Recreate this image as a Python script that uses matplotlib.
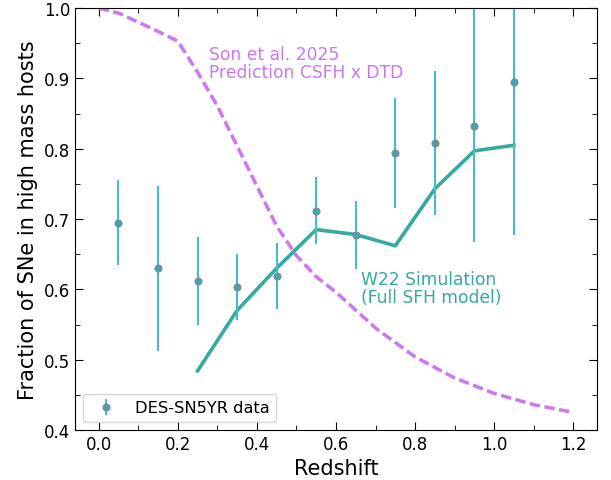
import matplotlib
matplotlib.use('Agg')
import matplotlib.pyplot as plt
import numpy as np

# DES-SN5YR binned data
z_data = [0.05, 0.15, 0.25, 0.35, 0.45, 0.55, 0.65, 0.75, 0.85, 0.95, 1.05]
frac_data = [0.695, 0.630, 0.612, 0.603, 0.619, 0.712, 0.677, 0.794, 0.808, 0.833, 0.895]
frac_err = [0.060, 0.117, 0.062, 0.047, 0.047, 0.048, 0.048, 0.078, 0.102, 0.166, 0.217]

# W22 simulation
z_sim = [0.25, 0.35, 0.45, 0.55, 0.65, 0.75, 0.85, 0.95, 1.05]
frac_sim = [0.484, 0.570, 0.630, 0.685, 0.678, 0.662, 0.743, 0.797, 0.805]

# Son et al. 2025 prediction
z_son = [0.0, 0.05, 0.10, 0.15, 0.20, 0.25, 0.30, 0.35, 0.40, 0.45, 0.50,
         0.55, 0.60, 0.70, 0.80, 0.90, 1.00, 1.10, 1.20]
frac_son = [1.000, 0.993, 0.980, 0.967, 0.953, 0.909, 0.861, 0.804, 0.747, 0.690, 0.648,
            0.618, 0.596, 0.545, 0.504, 0.474, 0.452, 0.436, 0.425]

purple = '#cc77f2'
teal = '#35ab9e'
blue = '#4cb8cc'

fig = plt.figure(figsize=(6.11, 4.81), dpi=100)
ax = fig.add_axes([0.1227, 0.104, 0.8543, 0.877])

ax.plot(z_son, frac_son, ls='--', dashes=(3.0, 1.3), color=purple, lw=2.5)
ax.plot(z_sim, frac_sim, ls='-', color=teal, lw=2.6)
ax.errorbar(z_data, frac_data, yerr=frac_err, fmt='o', color=blue, ms=5,
            mfc='#3fa3ba', mec='#888888', mew=0.8, elinewidth=1.5, capsize=0,
            label='DES-SN5YR data')

ax.text(0.28, 0.948, 'Son et al. 2025\nPrediction CSFH x DTD', color=purple,
        fontsize=12.3, va='top', ha='left', linespacing=1.0)
ax.text(0.663, 0.628, 'W22 Simulation\n(Full SFH model)', color=teal,
        fontsize=12.3, va='top', ha='left', linespacing=1.0)

ax.set_ylim(0.4, 1.0)
ax.set_xlabel('Redshift', fontsize=15)
ax.set_ylabel('Fraction of SNe in high mass hosts', fontsize=15)
ax.set_xticks(np.arange(0, 1.21, 0.2))
ax.set_xticks(np.arange(0.1, 1.21, 0.2), minor=True)
ax.set_yticks(np.arange(0.4, 1.01, 0.1))
ax.set_yticks(np.arange(0.45, 1.0, 0.1), minor=True)
ax.tick_params(which='both', direction='in', top=True, right=True, labelsize=12)
ax.tick_params(which='major', length=6)
ax.tick_params(which='minor', length=3.5)

ax.legend(loc='lower left', fontsize=11.7)

fig.savefig('out.png', dpi=100)
